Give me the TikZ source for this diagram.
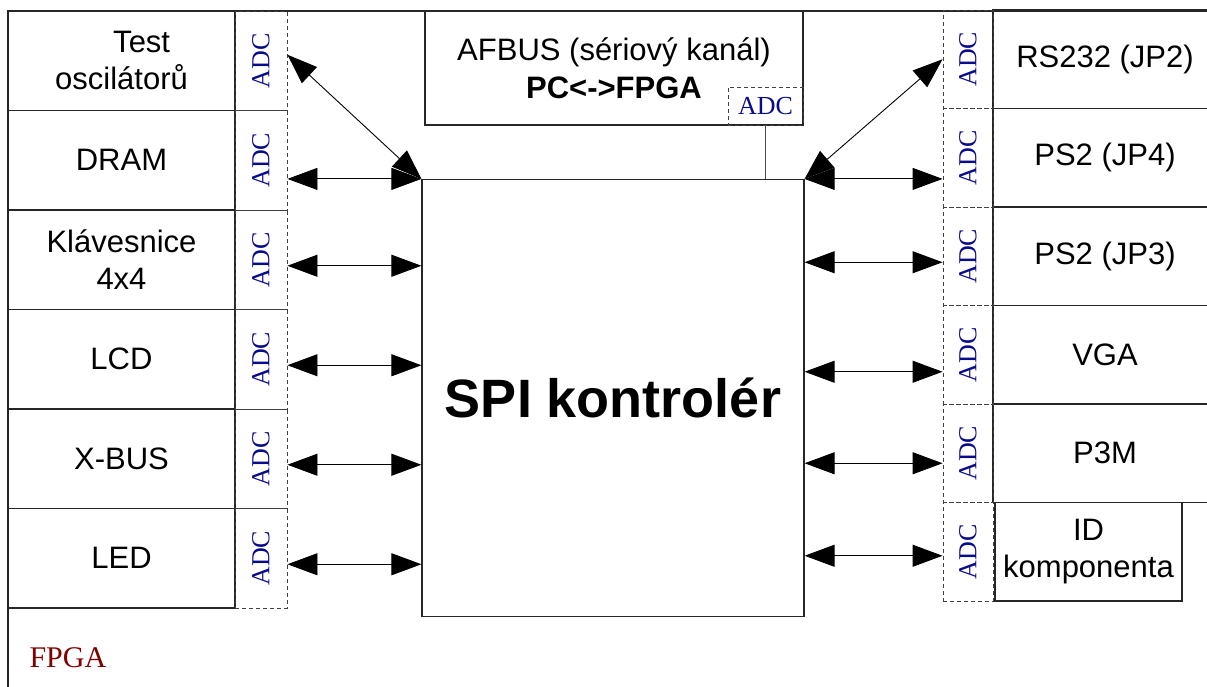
\documentclass[tikz,border=0pt]{standalone}
\usepackage{fontspec}
\usepackage{graphicx}
\setmainfont{Liberation Sans}
\newfontfamily\adcserif{Liberation Serif}
\usetikzlibrary{arrows.meta}

\definecolor{adcblue}{RGB}{10,10,140}
\definecolor{fpgared}{RGB}{128,0,0}

\tikzset{
  blok/.style={draw=black!85, line width=1.2pt, inner sep=0pt, align=center,
    font=\fontsize{31}{37}\selectfont},
  adcbox/.style={draw=black!75, dash pattern=on 4pt off 3pt, line width=0.9pt,
    inner sep=0pt, text=adcblue, font=\adcserif\fontsize{26}{26}\selectfont},
  dbl/.style={{Triangle[length=30pt,width=22pt]}-{Triangle[length=30pt,width=22pt]},
    line width=0.9pt},
}

\begin{document}
\begin{tikzpicture}[x=1pt,y=-1pt]
  \useasboundingbox (0,0) rectangle (1207,686);
  \clip (0,0) rectangle (1207,686);

  % FPGA frame
  \draw[line width=1.2pt, black!85] (8,700) -- (8,11) -- (1220,11);
  \node[anchor=west, text=fpgared, font=\adcserif\fontsize{30}{30}\selectfont] (fpga) at (26,658) {FPGA};

  % left column
  \node[blok, minimum width=227pt, minimum height=99.5pt] (test) at (121.5,60.75) {\hspace*{1.3em}Test\\oscilátorů};
  \node[blok, minimum width=227pt, minimum height=99.5pt] (dram) at (121.5,160.25) {DRAM};
  \node[blok, minimum width=227pt, minimum height=99.5pt] (klav) at (121.5,259.75) {Klávesnice\\4x4};
  \node[blok, minimum width=227pt, minimum height=99.5pt] (lcd) at (121.5,359.25) {LCD};
  \node[blok, minimum width=227pt, minimum height=99.5pt] (xbus) at (121.5,458.75) {X-BUS};
  \node[blok, minimum width=227pt, minimum height=99.5pt] (led) at (121.5,558.25) {LED};

  \foreach \n/\y in {1/60.75,2/160.25,3/259.75,4/359.25,5/458.75,6/558.25}{
    \node[adcbox, minimum width=52pt, minimum height=99.5pt] (adcL\n) at (261,\y) {\rotatebox{90}{ADC}};
  }

  % right column
  \node[blok, minimum width=224pt, minimum height=98.5pt] (rs232) at (1105,59.25) {RS232 (JP2)};
  \node[blok, minimum width=224pt, minimum height=98.5pt] (ps2a) at (1105,157.75) {PS2 (JP4)};
  \node[blok, minimum width=224pt, minimum height=98.5pt] (ps2b) at (1105,256.25) {PS2 (JP3)};
  \node[blok, minimum width=224pt, minimum height=98.5pt] (vga) at (1105,354.75) {VGA};
  \node[blok, minimum width=224pt, minimum height=98.5pt] (p3m) at (1105,453.25) {P3M};
  \node[blok, minimum width=187pt, minimum height=98.5pt] (idk) at (1088.5,551.75) {ID\\komponenta};

  \foreach \n/\y in {1/59.25,2/157.75,3/256.25,4/354.75,5/453.25,6/551.75}{
    \node[adcbox, minimum width=50pt, minimum height=98.5pt] (adcR\n) at (968,\y) {\rotatebox{90}{ADC}};
  }

  % middle
  \node[blok, minimum width=382pt, minimum height=437pt,
    font=\bfseries\fontsize{54}{54}\selectfont] (spi) at (613,398) {SPI kontrolér};
  \node[blok, minimum width=378pt, minimum height=114pt, font=\fontsize{31}{38}\selectfont]
    (afbus) at (614,68) {AFBUS (sériový kanál)\\\textbf{PC<->FPGA}};
  \node[adcbox, minimum width=75pt, minimum height=38pt] (adcA) at (765.5,106) {ADC};
  \draw[line width=1pt, black!70] (adcA.south) -- (adcA.south |- spi.north);

  % links left
  \draw[dbl] ([yshift=6pt]adcL1.east) -- (spi.north west);
  \draw[dbl] (adcL2.east |- spi.north) -- (spi.north west);
  \foreach \n in {3,...,6}{
    \draw[dbl] ([yshift=-6pt]adcL\n.east) -- ([yshift=-6pt]spi.west |- adcL\n.east);
  }

  % links right
  \draw[dbl] (spi.north east) -- (adcR1.west);
  \draw[dbl] (spi.north east) -- (adcR2.west |- spi.north);
  \foreach \n/\d in {3/-6,4/-17,5/-10,6/-4}{
    \draw[dbl] ([yshift=\d pt]spi.east |- adcR\n.west) -- ([yshift=\d pt]adcR\n.west);
  }
\end{tikzpicture}
\end{document}
